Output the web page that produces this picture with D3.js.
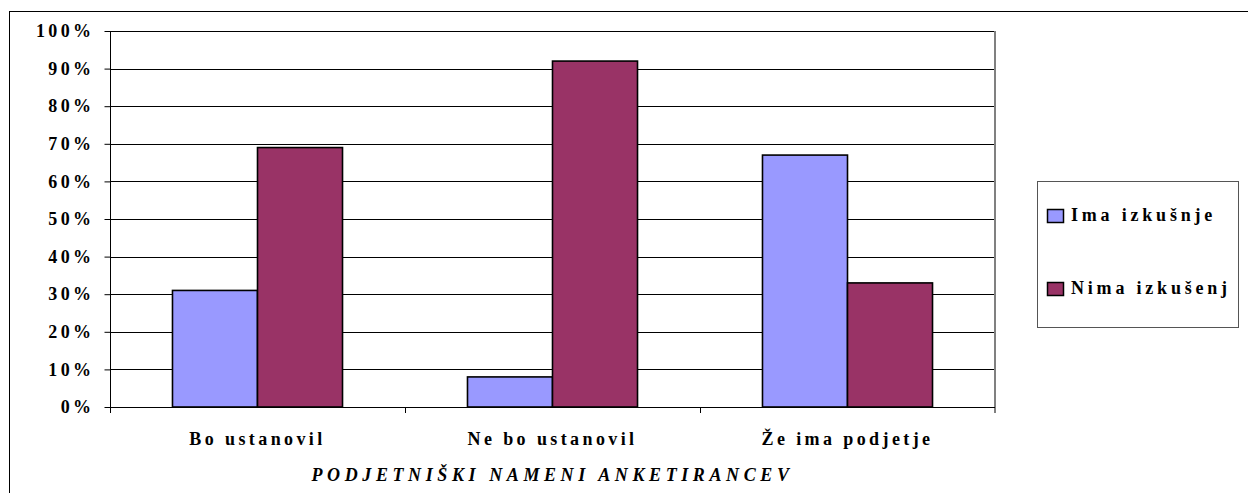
<!DOCTYPE html>
<html>
<head>
<meta charset="utf-8">
<script src="https://cdn.jsdelivr.net/npm/d3@7"></script>
<style>
  html, body { margin: 0; padding: 0; background: #fff; overflow: hidden; }
  svg { display: block; }
  text { font-family: "Liberation Serif", "Times New Roman", serif; font-weight: 700; fill: #000; }
</style>
</head>
<body>
<svg id="chart" width="1248" height="493"></svg>
<script>
// Survey data: entrepreneurial intentions by prior experience (percent)
const categories = ["Bo ustanovil", "Ne bo ustanovil", "Že ima podjetje"];
const seriesNames = ["Ima izkušnje", "Nima izkušenj"];
const imaIzkusnje = [31, 8, 67];
const nimaIzkusenj = [69, 92, 33];
const yTicks = [0, 10, 20, 30, 40, 50, 60, 70, 80, 90, 100];
const colors = ["#9999FF", "#993366"];
const axisTitle = "PODJETNIŠKI NAMENI ANKETIRANCEV";

const FONT = "'Liberation Serif', 'Times New Roman', serif";

const seriesValues = [imaIzkusnje, nimaIzkusenj];
const rows = categories.map((c, i) => ({
  category: c,
  values: seriesNames.map((s, j) => ({ series: s, value: seriesValues[j][i], color: colors[j] }))
}));

const svg = d3.select("#chart");

// outer chart frame (runs past the right and bottom edges)
svg.append("rect")
  .attr("x", 9.5).attr("y", 11.5)
  .attr("width", 1400).attr("height", 700)
  .attr("fill", "none").attr("stroke", "#000").attr("stroke-width", 1);

const plot = { left: 110, top: 31, right: 995, bottom: 407 };

const x0 = d3.scaleBand().domain(categories).range([plot.left, plot.right]).paddingInner(0).paddingOuter(0);
const x1 = d3.scaleBand().domain(seriesNames).range([0, x0.bandwidth()]).paddingInner(0).paddingOuter(0.735);
const y = d3.scaleLinear().domain([0, 100]).range([plot.bottom, plot.top]);

// horizontal gridlines
svg.append("g")
  .selectAll("line")
  .data(yTicks)
  .join("line")
  .attr("x1", plot.left).attr("x2", plot.right)
  .attr("y1", d => Math.round(y(d)) + 0.5).attr("y2", d => Math.round(y(d)) + 0.5)
  .attr("stroke", "#000").attr("stroke-width", 1);

// right edge of the plot area
svg.append("line")
  .attr("x1", plot.right).attr("x2", plot.right)
  .attr("y1", plot.top).attr("y2", plot.bottom + 6)
  .attr("stroke", "#808080").attr("stroke-width", 2);

// bars
const groups = svg.append("g")
  .selectAll("g")
  .data(rows)
  .join("g")
  .attr("transform", d => `translate(${x0(d.category)},0)`);

groups.selectAll("rect")
  .data(d => d.values)
  .join("rect")
  .attr("x", d => x1(d.series))
  .attr("y", d => y(d.value))
  .attr("width", x1.bandwidth())
  .attr("height", d => y(0) - y(d.value))
  .attr("fill", d => d.color)
  .attr("stroke", "#000")
  .attr("stroke-width", 1.6);

// y axis
const yAxis = d3.axisLeft(y)
  .tickValues(yTicks)
  .tickFormat(d => d + "%")
  .tickSize(6)
  .tickPadding(10);

const gy = svg.append("g")
  .attr("transform", `translate(${plot.left + 0.5},0)`)
  .call(yAxis)
  .attr("font-family", null).attr("font-size", null);
gy.select(".domain").attr("d", `M0,${plot.top}V${plot.bottom + 6}`).attr("stroke", "#000");
gy.selectAll(".tick line").attr("stroke", "#000");
gy.selectAll(".tick text")
  .style("font-family", FONT)
  .style("font-weight", "700")
  .style("font-size", "18px")
  .style("letter-spacing", "3.4px")
  .attr("fill", "#000");

// x axis with ticks at category boundaries
const xAxis = d3.axisBottom(x0).tickSize(0).tickPadding(25);
const gx = svg.append("g")
  .attr("transform", `translate(0,${plot.bottom + 0.5})`)
  .call(xAxis)
  .attr("font-family", null).attr("font-size", null);
gx.select(".domain").attr("d", `M${plot.left},0H${plot.right}`).attr("stroke", "#000");
gx.selectAll(".tick text")
  .style("font-family", FONT)
  .style("font-weight", "700")
  .style("font-size", "18px")
  .style("letter-spacing", "3.4px")
  .attr("fill", "#000");

svg.append("g")
  .selectAll("line")
  .data(categories.slice(1))
  .join("line")
  .attr("x1", d => Math.round(x0(d)) + 0.5).attr("x2", d => Math.round(x0(d)) + 0.5)
  .attr("y1", plot.bottom).attr("y2", plot.bottom + 6)
  .attr("stroke", "#000");

// axis title
svg.append("text")
  .attr("x", (plot.left + plot.right) / 2)
  .attr("y", 481)
  .attr("text-anchor", "middle")
  .style("font-family", FONT)
  .style("font-size", "18px")
  .style("font-style", "italic")
  .style("letter-spacing", "4.6px")
  .text(axisTitle);

// legend
const legend = svg.append("g");
legend.append("rect")
  .attr("x", 1037.5).attr("y", 181.5)
  .attr("width", 201).attr("height", 146)
  .attr("fill", "#fff").attr("stroke", "#555").attr("stroke-width", 1);

const items = legend.selectAll("g.item")
  .data(seriesNames)
  .join("g")
  .attr("class", "item")
  .attr("transform", (d, i) => `translate(1047,${209 + i * 73})`);

items.append("rect")
  .attr("x", 0.5).attr("y", 0.5)
  .attr("width", 16).attr("height", 13)
  .attr("fill", (d, i) => colors[i])
  .attr("stroke", "#000").attr("stroke-width", 1.5);

items.append("text")
  .attr("x", 24).attr("y", 12)
  .style("font-family", FONT)
  .style("font-size", "18px")
  .style("letter-spacing", "3.8px")
  .text(d => d);
</script>
</body>
</html>
